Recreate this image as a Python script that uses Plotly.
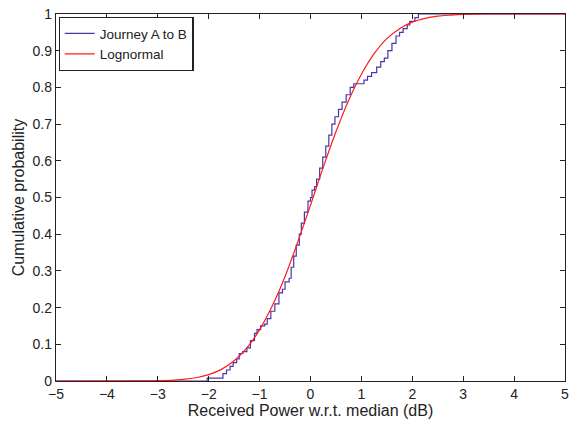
import plotly.graph_objects as go

# Empirical CDF (staircase) "Journey A to B"
blue_x = [-5.0, -2.03, -1.72, -1.65, -1.58, -1.52, -1.45, -1.40, -1.33, -1.25, -1.18, -1.10,
          -1.05, -0.98, -0.90, -0.85, -0.78, -0.70, -0.62, -0.55, -0.50, -0.42, -0.38,
          -0.33, -0.28, -0.22, -0.18, -0.12, -0.05, 0.00, 0.03, 0.08, 0.12, 0.18, 0.24,
          0.30, 0.36, 0.42, 0.48, 0.55, 0.62, 0.70, 0.78, 0.85, 1.05, 1.12, 1.20, 1.30,
          1.38, 1.45, 1.52, 1.60, 1.68, 1.75, 1.82, 1.90, 1.95, 2.05, 2.12, 5.0]
blue_y = [0.0, 0.008, 0.02, 0.03, 0.04, 0.05, 0.06, 0.075, 0.08, 0.09, 0.11, 0.13,
          0.14, 0.15, 0.155, 0.17, 0.19, 0.21, 0.24, 0.25, 0.27, 0.28, 0.31,
          0.34, 0.37, 0.40, 0.43, 0.46, 0.49, 0.50, 0.52, 0.53, 0.55, 0.58, 0.61,
          0.64, 0.67, 0.70, 0.72, 0.74, 0.76, 0.78, 0.80, 0.81, 0.82, 0.83, 0.84, 0.855,
          0.87, 0.88, 0.90, 0.92, 0.94, 0.95, 0.96, 0.97, 0.98, 0.99, 1.0, 1.0]

# Fitted lognormal CDF
red_x = [-5.0, -3.5, -3.0, -2.75, -2.5, -2.25, -2.0, -1.75, -1.5, -1.25, -1.0, -0.75,
         -0.5, -0.25, 0.0, 0.25, 0.5, 0.75, 1.0, 1.25, 1.5, 1.75, 2.0, 2.25, 2.5,
         2.75, 3.0, 3.5, 5.0]
red_y = [0.0, 0.0001, 0.0008, 0.0019, 0.0043, 0.0089, 0.0173, 0.0317, 0.055, 0.090,
         0.140, 0.205, 0.285, 0.379, 0.479, 0.582, 0.679, 0.765, 0.836, 0.892, 0.933,
         0.960, 0.978, 0.988, 0.994, 0.997, 0.999, 1.0, 1.0]

x_ticks = [-5, -4, -3, -2, -1, 0, 1, 2, 3, 4, 5]
y_ticks = [0, 0.1, 0.2, 0.3, 0.4, 0.5, 0.6, 0.7, 0.8, 0.9, 1]
y_tick_text = ["0", "0.1", "0.2", "0.3", "0.4", "0.5", "0.6", "0.7", "0.8", "0.9", "1"]

fig = go.Figure()
fig.add_trace(go.Scatter(x=blue_x, y=blue_y, mode="lines", line_shape="hv",
                         line=dict(color="#4b35a8", width=1.2), name="Journey A to B"))
fig.add_trace(go.Scatter(x=red_x, y=red_y, mode="lines", line_shape="spline",
                         line=dict(color="#ff1a1a", width=1.2), name="Lognormal"))

axis_common = dict(showline=True, linecolor="#222", linewidth=1.3, mirror="ticks",
                   ticks="inside", ticklen=5, tickcolor="#222", tickwidth=1,
                   showgrid=False, zeroline=False,
                   tickfont=dict(family="Liberation Sans, Arial", size=14, color="#222"))

fig.update_layout(
    width=575, height=428,
    margin=dict(l=56, r=6, t=11, b=47),
    paper_bgcolor="white", plot_bgcolor="white",
    font=dict(family="Liberation Sans, Arial", size=14, color="#222"),
    xaxis=dict(range=[-5, 5], tickvals=x_ticks, **axis_common,
               title=dict(text="Received Power w.r.t. median (dB)", standoff=0,
                          font=dict(size=16))),
    yaxis=dict(range=[0, 1], tickvals=y_ticks, ticktext=y_tick_text, **axis_common,
               title=dict(text="Cumulative probability", standoff=3,
                          font=dict(size=16))),
    legend=dict(x=0.005, y=0.992, xanchor="left", yanchor="top",
                bordercolor="#222", borderwidth=1.2, bgcolor="white",
                font=dict(size=13.5), tracegroupgap=0),
    showlegend=True,
)

fig.write_html("out.html", config={"displayModeBar": False},
               post_script="document.body.style.margin='0';document.body.style.overflow='hidden';")
